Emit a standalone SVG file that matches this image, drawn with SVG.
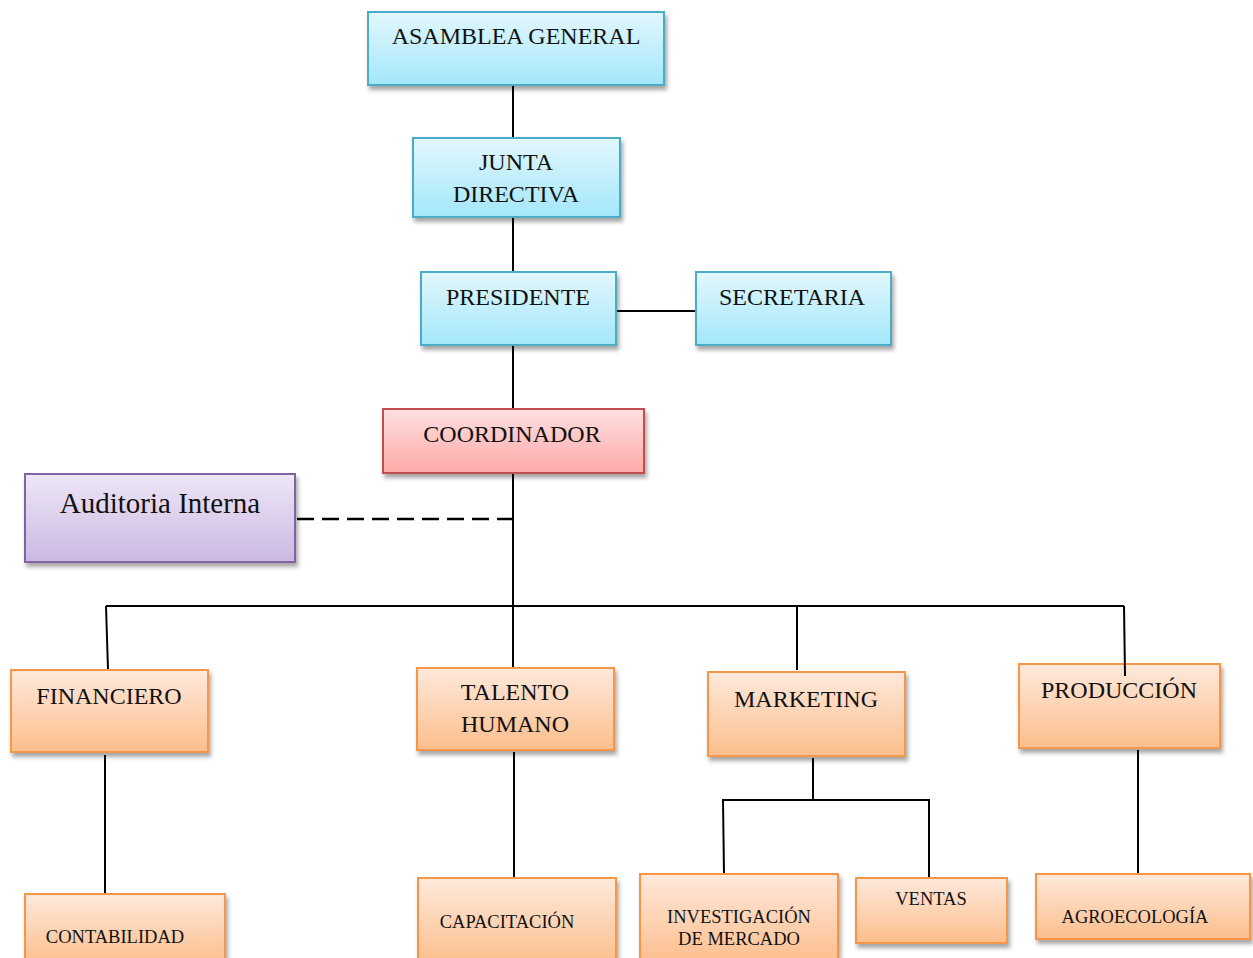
<svg xmlns="http://www.w3.org/2000/svg" width="1253" height="958" viewBox="0 0 1253 958">
  <defs>
    <linearGradient id="gBlue" x1="0" y1="0" x2="0" y2="1">
      <stop offset="0" stop-color="#e3f7fd"/>
      <stop offset="1" stop-color="#a3e7fa"/>
    </linearGradient>
    <linearGradient id="gRed" x1="0" y1="0" x2="0" y2="1">
      <stop offset="0" stop-color="#ffe0e0"/>
      <stop offset="1" stop-color="#fda9a8"/>
    </linearGradient>
    <linearGradient id="gPurple" x1="0" y1="0" x2="0" y2="1">
      <stop offset="0" stop-color="#eee7f6"/>
      <stop offset="1" stop-color="#cbb8e3"/>
    </linearGradient>
    <linearGradient id="gOrange" x1="0" y1="0" x2="0" y2="1">
      <stop offset="0" stop-color="#fee9dc"/>
      <stop offset="1" stop-color="#fcbe8c"/>
    </linearGradient>
    <filter id="shadow" x="-10%" y="-10%" width="125%" height="135%">
      <feDropShadow dx="2" dy="4" stdDeviation="2.2" flood-color="#000" flood-opacity="0.35"/>
    </filter>
  </defs>
  <style>
    .blue { fill: url(#gBlue); stroke: #4bacc6; stroke-width: 2; filter: url(#shadow); }
    .red { fill: url(#gRed); stroke: #c0504d; stroke-width: 2; filter: url(#shadow); }
    .purple { fill: url(#gPurple); stroke: #8064a2; stroke-width: 2; filter: url(#shadow); }
    .orange { fill: url(#gOrange); stroke: #f79646; stroke-width: 2; filter: url(#shadow); }
    text { font-family: "Liberation Serif", "Times New Roman", serif; fill: #111; text-anchor: middle; }
    .big { font-size: 24px; }
    .small { font-size: 18.5px; }
    .aud { font-size: 29px; }
    .link { stroke: #000; stroke-width: 2; fill: none; }
    .dash { stroke: #000; stroke-width: 2.5; fill: none; stroke-dasharray: 17 8; }
  </style>

  <rect width="1253" height="958" fill="#fff"/>

  <!-- reporting lines -->
  <g id="connectors">
    <line class="link" x1="513" y1="86" x2="513" y2="138"/>
    <line class="link" x1="513" y1="217" x2="513" y2="272"/>
    <line class="link" x1="616" y1="311" x2="696" y2="311"/>
    <line class="link" x1="513" y1="345" x2="513" y2="409"/>
    <line class="link" x1="513" y1="473" x2="513" y2="668"/>
    <!-- dashed advisory line: 9 dashes so both ends are solid -->
    <line class="dash" x1="297" y1="519" x2="514" y2="519"/>
    <line class="link" x1="106" y1="606" x2="1124" y2="606"/>
    <line class="link" x1="106" y1="606" x2="108" y2="670"/>
    <line class="link" x1="797" y1="606" x2="797" y2="670"/>
    <line class="link" x1="105" y1="755" x2="105" y2="894"/>
    <line class="link" x1="514" y1="752" x2="514" y2="878"/>
    <line class="link" x1="813" y1="758" x2="813" y2="801"/>
    <line class="link" x1="722" y1="800" x2="930" y2="800"/>
    <line class="link" x1="723" y1="800" x2="724" y2="874"/>
    <line class="link" x1="929" y1="800" x2="929" y2="878"/>
    <line class="link" x1="1138" y1="750" x2="1138" y2="874"/>
  </g>

  <g id="asamblea">
    <rect class="blue" x="368" y="12" width="296" height="73"/>
    <text class="big" x="516" y="44">ASAMBLEA GENERAL</text>
  </g>
  <g id="junta">
    <rect class="blue" x="413" y="138" width="207" height="79"/>
    <text class="big" x="516" y="170">JUNTA</text>
    <text class="big" x="516" y="202">DIRECTIVA</text>
  </g>
  <g id="presidente">
    <rect class="blue" x="421" y="272" width="195" height="73"/>
    <text class="big" x="518" y="305">PRESIDENTE</text>
  </g>
  <g id="secretaria">
    <rect class="blue" x="696" y="272" width="195" height="73"/>
    <text class="big" x="792" y="305">SECRETARIA</text>
  </g>
  <g id="coordinador">
    <rect class="red" x="383" y="409" width="261" height="64"/>
    <text class="big" x="512" y="442">COORDINADOR</text>
  </g>
  <g id="auditoria">
    <rect class="purple" x="25" y="474" width="270" height="88"/>
    <text class="aud" x="160" y="513">Auditoria Interna</text>
  </g>
  <g id="financiero">
    <rect class="orange" x="11" y="670" width="197" height="82"/>
    <text class="big" x="109" y="704">FINANCIERO</text>
  </g>
  <g id="talento">
    <rect class="orange" x="417" y="668" width="197" height="82"/>
    <text class="big" x="515" y="700">TALENTO</text>
    <text class="big" x="515" y="732">HUMANO</text>
  </g>
  <g id="marketing">
    <rect class="orange" x="708" y="672" width="197" height="84"/>
    <text class="big" x="806" y="707">MARKETING</text>
  </g>
  <g id="produccion">
    <rect class="orange" x="1019" y="664" width="201" height="84"/>
    <text class="big" x="1119" y="698">PRODUCCIÓN</text>
    <!-- branch line drawn over the top edge -->
    <line class="link" x1="1124" y1="606" x2="1125" y2="676"/>
  </g>
  <g id="contabilidad">
    <rect class="orange" x="25" y="894" width="200" height="70"/>
    <text class="small" x="115" y="943">CONTABILIDAD</text>
  </g>
  <g id="capacitacion">
    <rect class="orange" x="418" y="878" width="198" height="86"/>
    <text class="small" x="507" y="928">CAPACITACIÓN</text>
  </g>
  <g id="investigacion">
    <rect class="orange" x="640" y="874" width="198" height="90"/>
    <text class="small" x="739" y="923">INVESTIGACIÓN</text>
    <text class="small" x="739" y="945">DE MERCADO</text>
  </g>
  <g id="ventas">
    <rect class="orange" x="856" y="878" width="151" height="65"/>
    <text class="small" x="931" y="905">VENTAS</text>
  </g>
  <g id="agroecologia">
    <rect class="orange" x="1036" y="874" width="214" height="65"/>
    <text class="small" x="1135" y="923">AGROECOLOGÍA</text>
  </g>
</svg>
